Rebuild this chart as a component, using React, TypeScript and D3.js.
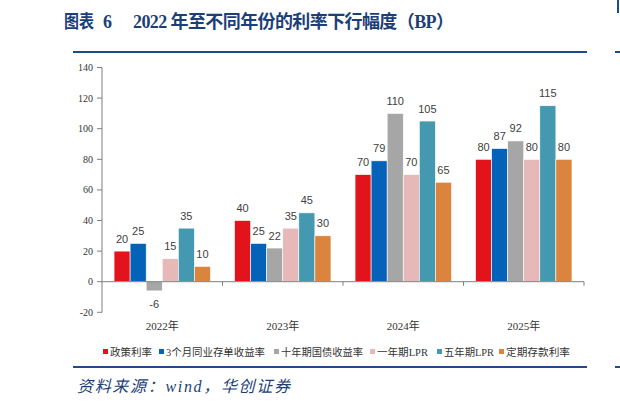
import React from "react";
import * as d3 from "d3";

const years = ["2022年", "2023年", "2024年", "2025年"];
const seriesNames = ["政策利率", "3个月同业存单收益率", "十年期国债收益率", "一年期LPR", "五年期LPR", "定期存款利率"];
const seriesColors = ["#e3131b", "#0562b9", "#a6a6a6", "#e6b8b7", "#4499b0", "#db843d"];
// one row per series, one value per year (BP)
const policyRate = [20, 40, 70, 80];
const ncd3m = [25, 25, 79, 87];
const cgb10y = [-6, 22, 110, 92];
const lpr1y = [15, 35, 70, 80];
const lpr5y = [35, 45, 105, 115];
const depositRate = [10, 30, 65, 80];
const yTicks = [-20, 0, 20, 40, 60, 80, 100, 120, 140];

const series = [policyRate, ncd3m, cgb10y, lpr1y, lpr5y, depositRate];

const App = () => {
  const x0 = d3.scaleBand().domain(years).range([102, 584]).paddingInner(0).paddingOuter(0);
  const x1 = d3
    .scaleBand()
    .domain(seriesNames)
    .range([0, x0.bandwidth()])
    .paddingOuter(0.75)
    .paddingInner(0);
  const y = d3.scaleLinear().domain([-20, 140]).range([312.3, 67.5]);
  const navy = "#1f4b8a";
  const serifCjk = "'Liberation Serif', 'Noto Sans CJK SC', serif";

  const legendX = [103, 159, 274, 370, 437, 499];
  const legendW = [42, 99, 82, 51, 50, 64];

  return (
    <svg width={620} height={408} style={{ position: "absolute", left: 0, top: 0 }}>
      <rect width={620} height={408} fill="#fff" />
      <text y={28} fontFamily={serifCjk} fontWeight="bold" fontSize={18} fill="#1c3f78">
        <tspan x={64} textLength={30} lengthAdjust="spacingAndGlyphs">图表</tspan>
        <tspan x={103}>6</tspan>
        <tspan x={133} textLength={321} lengthAdjust="spacing">
          2022 年至不同年份的利率下行幅度（BP）
        </tspan>
      </text>
      <rect x={617} y={0} width={2} height={13} fill={navy} />
      <line x1={73} x2={587} y1={52} y2={52} stroke={navy} strokeWidth={2} />
      <line x1={615} x2={620} y1={52} y2={52} stroke={navy} strokeWidth={2} />

      {/* y axis */}
      <line x1={102} x2={102} y1={y(140)} y2={y(-20)} stroke="#7f7f7f" strokeWidth={1} />
      {yTicks.map(t => (
        <g key={t}>
          <line x1={97} x2={102} y1={y(t)} y2={y(t)} stroke="#7f7f7f" />
          <text
            x={93}
            y={y(t)}
            dy="0.35em"
            textAnchor="end"
            fontFamily="'Liberation Serif', serif"
            fontSize={10}
            fill="#333"
          >
            {t}
          </text>
        </g>
      ))}

      {/* bars */}
      {years.map((yr, i) => (
        <g key={yr} transform={`translate(${x0(yr)},0)`}>
          {series.map((vals, s) => {
            const v = vals[i];
            const bx = x1(seriesNames[s]) as number;
            const bw = x1.bandwidth();
            const top = Math.min(y(v), y(0));
            const h = Math.abs(y(v) - y(0));
            return (
              <g key={s}>
                <rect x={bx} y={top} width={bw} height={h} fill={seriesColors[s]} stroke="#ffffff" strokeWidth={0.6} />
                <text
                  x={bx + bw / 2}
                  y={v >= 0 ? y(v) - 8.5 : y(v) + 17}
                  textAnchor="middle"
                  fontFamily="'Liberation Sans', 'DejaVu Sans', sans-serif"
                  fontSize={11}
                  fill="#404040"
                >
                  {v}
                </text>
              </g>
            );
          })}
        </g>
      ))}

      {/* x axis */}
      <line x1={102} x2={584} y1={y(0)} y2={y(0)} stroke="#7f7f7f" />
      {years.map(yr => (
        <g key={yr}>
          <line
            x1={(x0(yr) as number) + x0.bandwidth()}
            x2={(x0(yr) as number) + x0.bandwidth()}
            y1={y(0)}
            y2={y(0) + 4}
            stroke="#7f7f7f"
          />
          <text
            x={(x0(yr) as number) + x0.bandwidth() / 2}
            y={330}
            textAnchor="middle"
            fontFamily={serifCjk}
            fontSize={11}
            fill="#333"
          >
            {yr}
          </text>
        </g>
      ))}

      {/* legend */}
      {seriesNames.map((n, s) => (
        <g key={n} transform={`translate(${legendX[s]},352)`}>
          <rect x={0} y={-3} width={5} height={5} fill={seriesColors[s]} />
          <text
            x={7}
            y={0}
            dy="0.35em"
            fontFamily={serifCjk}
            fontSize={10.3}
            fill="#333"
            textLength={legendW[s]}
            lengthAdjust="spacingAndGlyphs"
          >
            {n}
          </text>
        </g>
      ))}

      <line x1={73} x2={587} y1={367} y2={367} stroke={navy} strokeWidth={2} />
      <line x1={615} x2={620} y1={367} y2={367} stroke={navy} strokeWidth={2} />
      <text
        x={77}
        y={392}
        fontFamily={serifCjk}
        fontStyle="italic"
        fontSize={16}
        fill="#1c3f78"
        textLength={213}
        lengthAdjust="spacing"
      >
        资料来源：wind，华创证券
      </text>
    </svg>
  );
};

export default App;
